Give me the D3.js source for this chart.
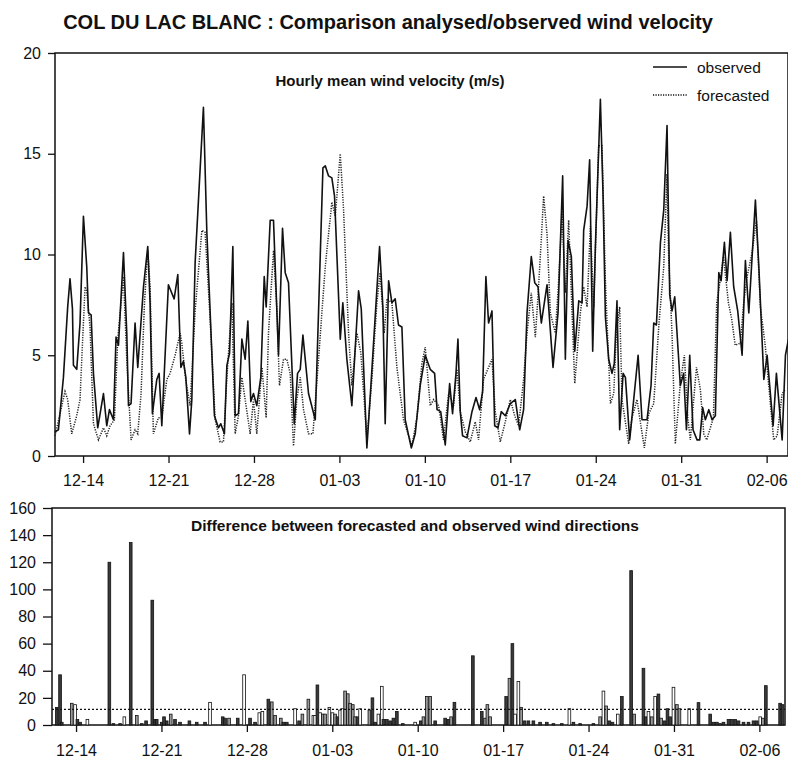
<!DOCTYPE html>
<html>
<head>
<meta charset="utf-8">
<title>Col du Lac Blanc</title>
<script src="https://cdnjs.cloudflare.com/ajax/libs/d3/7.8.5/d3.min.js"></script>
<style>
  body { margin: 0; background: #fff; }
  svg text { font-family: "Liberation Sans", Arial, Helvetica, sans-serif; fill: #111; }
  .tick line { stroke: #111; stroke-width: 1.3; }
</style>
</head>
<body>
<svg id="chart" width="788" height="758"></svg>
<script>

// day 0 = 12-14, one unit = one day
var tickDays = [0, 7, 14, 21, 28, 35, 42, 49, 56]
var tickLabels = ['12-14', '12-21', '12-28', '01-03', '01-10', '01-17', '01-24', '01-31', '02-06']

// hourly mean wind velocity (m/s), [day, value]
var observed = [[-2.30,1.2],[-2.02,1.3],[-1.61,3.9],[-1.26,7.4],[-1.07,8.8],[-0.87,7.3],[-0.79,4.5],[-0.52,4.3],[-0.25,6.6],[0.03,11.9],[0.30,9.4],[0.44,7.1],[0.66,7.0],[0.85,4.1],[1.20,1.4],[1.67,3.1],[1.94,1.5],[2.16,2.3],[2.49,1.8],[2.70,5.9],[2.90,5.5],[3.31,10.1],[3.58,6.1],[3.72,2.5],[3.93,2.6],[4.26,6.6],[4.48,4.4],[4.95,8.4],[5.30,10.4],[5.49,7.6],[5.68,2.1],[6.04,3.8],[6.23,4.1],[6.45,1.5],[6.99,8.5],[7.46,7.8],[7.76,9.0],[8.01,4.4],[8.22,4.7],[8.42,3.9],[8.72,1.1],[8.91,2.8],[9.18,9.6],[9.86,17.3],[10.14,11.1],[10.76,2.0],[11.09,1.4],[11.28,1.6],[11.58,1.1],[11.78,4.5],[12.00,5.1],[12.27,10.4],[12.46,2.0],[12.73,2.1],[13.01,5.8],
  [13.28,4.8],[13.50,6.7],[13.74,2.7],[13.96,3.1],[14.23,2.5],[14.56,3.9],[14.84,8.9],[15.00,7.4],[15.33,11.7],[15.60,11.7],[16.01,5.0],[16.34,11.3],[16.56,9.1],[16.83,8.6],[17.30,1.6],[17.57,4.1],[17.79,4.3],[18.01,6.0],[18.47,3.1],[19.02,1.8],[19.65,14.3],[19.84,14.4],[20.11,13.9],[20.38,13.8],[20.60,12.9],[21.07,5.8],[21.28,7.6],[21.61,4.8],[22.02,2.5],[22.57,8.2],[22.79,7.3],[23.25,0.4],[23.58,3.5],[24.29,10.4],[24.56,7.4],[24.75,1.6],[25.03,8.7],[25.30,7.6],[25.57,7.8],[25.84,6.5],[26.12,6.4],[26.39,1.8],[26.89,0.4],[27.21,1.1],[27.62,3.5],[28.03,5.0],
  [28.44,4.3],[28.80,4.1],[29.00,2.3],[29.30,2.2],[29.67,0.55],[30.03,3.6],[30.27,2.1],[30.55,4.1],[30.71,5.8],[30.90,2.2],[31.09,1.0],[31.45,0.9],[31.86,2.2],[32.19,2.9],[32.49,2.3],[32.73,3.2],[33.00,8.9],[33.22,6.6],[33.50,7.2],[33.72,1.5],[33.99,1.4],[34.26,2.2],[34.59,2.0],[35.00,2.6],[35.41,2.8],[35.77,1.3],[36.09,2.3],[36.37,7.1],[36.72,9.9],[37.00,8.6],[37.27,8.4],[37.54,6.6],[38.01,8.5],[38.50,4.4],[38.91,7.1],[39.29,13.9],[39.51,4.8],[39.73,10.7],[40.00,9.9],[40.28,5.2],[40.61,7.7],[40.88,7.6],[41.01,11.2],[41.29,12.4],[41.50,14.7],[41.75,5.2],[41.97,10.4],[42.38,17.7],[42.60,12.9],
  [42.79,6.9],[43.06,4.8],[43.33,4.1],[43.52,4.6],[43.74,7.7],[43.96,1.3],[44.24,4.1],[44.43,3.9],[44.78,0.8],[45.11,2.8],[45.47,5.0],[45.79,1.8],[46.20,1.8],[46.53,3.5],[46.75,6.6],[46.97,6.5],[47.30,10.6],[47.57,12.2],[47.84,16.4],[48.06,8.0],[48.25,7.2],[48.47,7.9],[48.93,3.5],[49.20,4.1],[49.43,1.3],[49.70,5.0],[49.97,1.3],[50.30,0.8],[50.52,0.8],[50.76,2.4],[50.98,1.8],[51.26,2.3],[51.53,1.8],[51.80,2.0],[52.08,9.1],[52.27,8.7],[52.54,10.6],[52.76,8.7],[53.03,11.1],[53.30,8.4],[53.63,7.2],[53.99,5.0],[54.26,9.7],[54.54,7.1],[55.08,12.7],[55.36,9.4],[55.77,3.8],[56.04,5.0],[56.53,1.5],[56.80,4.1],[57.27,0.8],[57.54,5.0],[57.79,5.8]]

var forecasted = [[-2.30,1.0],[-1.48,3.2],[-1.26,2.8],[-0.93,1.1],[-0.52,2.0],[-0.25,2.8],[0.16,8.4],[0.30,8.2],[0.57,6.4],[0.85,1.6],[1.26,0.8],[1.67,1.4],[1.94,1.0],[2.21,1.5],[2.57,1.8],[2.84,5.8],[3.31,8.9],[3.58,4.8],[3.93,0.8],[4.26,1.3],[4.48,1.1],[4.75,3.1],[5.03,7.6],[5.30,10.2],[5.49,8.4],[5.76,1.1],[6.17,1.9],[6.45,1.9],[6.86,3.8],[7.13,4.1],[7.54,5.0],[7.95,6.1],[8.09,5.6],[8.42,3.7],[8.77,2.5],[9.18,7.2],[9.73,11.2],[10.00,11.1],[10.41,6.8],[10.82,1.8],[11.23,0.7],[11.50,0.7],[11.78,3.9],[12.19,7.6],[12.46,1.1],[12.73,2.0],[13.01,3.9],
  [13.69,1.1],[13.96,2.8],[14.23,1.1],[14.65,4.4],[15.00,1.9],[15.19,6.1],[15.60,10.2],[15.87,7.4],[16.09,3.5],[16.42,4.8],[16.69,4.8],[16.97,4.1],[17.24,0.5],[17.51,2.8],[17.79,3.9],[18.06,2.3],[18.47,1.1],[18.83,1.1],[19.29,4.8],[19.84,9.4],[20.38,12.6],[20.66,11.9],[21.07,15.0],[21.34,12.2],[21.75,6.1],[22.02,3.5],[22.43,6.1],[22.76,5.1],[23.25,0.8],[23.66,3.8],[24.07,7.6],[24.34,9.1],[24.67,6.1],[24.89,7.8],[25.30,7.6],[25.71,4.4],[26.25,1.8],[26.94,0.5],[27.35,1.9],[27.76,4.6],[28.03,5.4],
  [28.44,2.5],[28.72,2.8],[29.13,2.5],[29.53,0.8],[29.94,3.1],[30.35,2.5],[30.63,4.3],[30.90,2.2],[31.31,1.2],[31.72,0.7],[32.13,1.7],[32.40,0.8],[32.81,3.8],[33.22,4.4],[33.50,4.8],[33.77,2.2],[34.18,0.7],[34.59,1.7],[35.00,2.8],[35.36,2.0],[35.68,1.5],[36.09,3.8],[36.37,6.1],[36.72,8.1],[37.05,5.9],[37.32,8.4],[37.73,12.9],[38.01,11.0],[38.28,7.1],[38.69,6.1],[38.96,8.7],[39.24,12.1],[39.51,8.1],[39.78,11.7],[40.06,7.1],[40.28,3.6],[40.74,7.1],[41.01,8.4],[41.29,7.4],[41.56,11.4],[41.83,7.4],[42.24,15.4],[42.51,15.4],[42.79,8.7],[43.20,2.6],
  [43.47,3.1],[43.69,6.1],[43.96,7.4],[44.15,2.8],[44.70,0.6],[44.97,1.9],[45.38,2.8],[45.60,1.9],[45.98,0.4],[46.34,2.1],[46.75,2.6],[47.16,6.4],[47.57,9.4],[47.84,14.0],[47.98,9.7],[48.25,6.1],[48.52,0.6],[48.93,3.6],[49.26,5.0],[49.54,1.9],[49.75,0.8],[50.25,4.4],[50.57,3.3],[50.85,1.1],[51.09,0.8],[51.64,1.9],[51.91,7.6],[52.19,8.7],[52.46,9.9],[52.87,7.6],[53.14,6.8],[53.42,5.5],[53.85,5.6],[54.12,7.6],[54.40,8.9],[54.81,10.1],[55.16,11.7],[55.49,7.4],[55.90,5.4],[56.17,3.5],[56.58,0.8],[56.86,1.0],[57.27,3.1],[57.54,3.3]]

// difference between forecasted and observed wind directions (degrees)
var barDays = [-1.58,-1.31,-1.17,-0.35,-0.08,0.11,0.33,0.93,2.73,3.06,3.61,3.96,4.48,4.98,5.39,5.74,6.25,6.48,6.61,7.02,7.21,7.43,7.76,8.11,8.52,9.29,9.89,10.57,10.98,12.02,12.21,12.54,13.25,13.77,14.26,14.67,15.02,15.27,15.76,16.04,16.31,16.78,16.99,17.27,17.95,18.28,18.55,19.04,19.45,19.59,19.78,20.00,20.22,20.41,20.76,21.01,21.23,21.42,21.64,21.83,22.05,22.27,22.46,22.68,22.87,23.06,23.28,24.04,24.29,24.51,24.78,25.06,25.19,25.47,25.74,26.01,26.29,26.78,27.79,28.25,28.47,28.75,29.02,29.43,30.25,30.52,30.74,31.01,32.52,33.25,33.52,33.71,33.93,35.25,35.52,35.76,35.98,36.25,36.48,36.75,37.07,37.48,38.03,38.58,39.12,39.81,40.43,40.76,41.31,42.40,42.95,43.22,43.44,43.71,43.96,44.40,44.73,45.49,45.74,46.50,46.70,46.91,47.19,47.46,47.73,47.95,48.22,48.47,48.69,48.96,49.24,49.45,50.25,51.01,51.97,52.24,52.52,52.79,53.06,53.47,53.75,54.02,54.29,54.70,55.11,55.52,55.79,56.07,56.29,56.53,57.70,57.89]
var barValues = [13,37,2,16,15,4,2,4,120,1,1,6,134.5,7,1,3,92,4,4,2,6,3,8,4,2,3,2,2,16.7,6,5,5,5,37,5,2,9,10,19,17,7,5,2,2,12,3,8,19,7,7,29.5,9,8,8,13,9,8,6,11,12,25,23,16,15,6,6,12,11,20,2,8,28.5,4,4,3,5,10,1,2,3,6,21,21,3,5,4,6,16.7,51,10,5,15,6,21,34.4,60,8,32,13,3,3,3,2,2,1,1,12,2,1,1,6,25,14,3,2,8,21,113.8,8,41.8,6,10,6,21,22.8,5,3,12,6,27.8,15,12,12,16.5,8,2,2,1,2,4,4,4,3,2,2,3,3,6,5,29,16,15]
// 0 = dark, 1 = grey, 2 = open bar
var barStyles = [0,0,0,1,2,0,0,2,0,0,0,2,0,1,0,0,0,0,0,0,0,0,1,0,0,0,0,0,2,0,0,1,0,2,0,0,2,2,0,1,1,1,0,0,2,0,1,1,2,2,0,2,1,1,2,2,1,0,2,2,1,1,1,1,1,0,2,1,0,0,2,2,0,0,0,0,0,0,2,0,1,1,1,0,0,0,1,0,0,0,1,1,1,0,1,0,2,2,1,0,0,0,0,0,0,0,2,0,0,0,1,2,1,0,0,2,0,0,1,0,0,2,1,2,0,1,0,0,0,2,1,1,2,0,0,0,0,0,0,0,0,0,0,0,0,0,0,2,1,0,0,0]
var threshold = 11.5

var velTicks = [0, 5, 10, 15, 20]
var dirTicks = [0, 20, 40, 60, 80, 100, 120, 140, 160]

var svg = d3.select('#chart')
var styleFill = ['#3a3a3a', '#9a9a9a', '#ffffff']

svg.append('text')
  .attr('x', 388).attr('y', 29)
  .attr('text-anchor', 'middle')
  .attr('font-size', 20).attr('font-weight', 'bold')
  .text('COL DU LAC BLANC : Comparison analysed/observed wind velocity')

// ---------- top panel ----------
var box1 = {left: 55, right: 788, top: 53, bottom: 456}
var x1 = d3.scaleLinear().domain([-2.3, 57.75]).range([box1.left, box1.right])
var y1 = d3.scaleLinear().domain([0, 20]).range([box1.bottom, box1.top])

var g1 = svg.append('g')

g1.append('rect')
  .attr('x', box1.left).attr('y', box1.top)
  .attr('width', box1.right - box1.left).attr('height', box1.bottom - box1.top)
  .attr('fill', 'none').attr('stroke', '#111').attr('stroke-width', 1.5)

g1.append('g')
  .attr('transform', 'translate(' + box1.left + ',0)')
  .call(d3.axisLeft(y1).tickValues(velTicks).tickSize(7).tickPadding(7))
  .call(function(g){ g.select('.domain').remove() })
  .selectAll('text').attr('font-size', 16)

g1.append('g')
  .attr('transform', 'translate(0,' + box1.bottom + ')')
  .call(d3.axisBottom(x1).tickValues(tickDays).tickSize(7).tickPadding(12)
        .tickFormat(function(d, i){ return tickLabels[i] }))
  .call(function(g){ g.select('.domain').remove() })
  .selectAll('text').attr('font-size', 16)

var line1 = d3.line()
  .x(function(d){ return x1(d[0]) })
  .y(function(d){ return y1(d[1]) })

g1.append('path')
  .datum(forecasted)
  .attr('d', line1)
  .attr('fill', 'none').attr('stroke', '#222')
  .attr('stroke-width', 1.5).attr('stroke-dasharray', '1.2,1.3')

g1.append('path')
  .datum(observed)
  .attr('d', line1)
  .attr('fill', 'none').attr('stroke', '#111')
  .attr('stroke-width', 1.6).attr('stroke-linejoin', 'round')

g1.append('text')
  .attr('x', 390).attr('y', 86)
  .attr('text-anchor', 'middle')
  .attr('font-size', 15).attr('font-weight', 'bold')
  .text('Hourly mean wind velocity (m/s)')

// legend
var legend = [['observed', null, 73], ['forecasted', '1.2,1.3', 101]]
legend.forEach(function(l){
  g1.append('line')
    .attr('x1', 653).attr('x2', 687).attr('y1', l[2] - 6).attr('y2', l[2] - 6)
    .attr('stroke', '#111').attr('stroke-width', 1.6)
    .attr('stroke-dasharray', l[1])
  g1.append('text')
    .attr('x', 697).attr('y', l[2])
    .attr('font-size', 15.5)
    .text(l[0])
})

// ---------- bottom panel ----------
var box2 = {left: 52, right: 785, top: 508, bottom: 725}
var x2 = d3.scaleLinear().domain([-1.97, 58.1]).range([box2.left, box2.right])
var y2 = d3.scaleLinear().domain([0, 160]).range([box2.bottom, box2.top])

var g2 = svg.append('g')

g2.append('rect')
  .attr('x', box2.left).attr('y', box2.top)
  .attr('width', box2.right - box2.left).attr('height', box2.bottom - box2.top)
  .attr('fill', 'none').attr('stroke', '#111').attr('stroke-width', 1.5)

g2.append('g')
  .attr('transform', 'translate(' + box2.left + ',0)')
  .call(d3.axisLeft(y2).tickValues(dirTicks).tickSize(9).tickPadding(7))
  .call(function(g){ g.select('.domain').remove() })
  .selectAll('text').attr('font-size', 16)

g2.append('g')
  .attr('transform', 'translate(0,' + box2.bottom + ')')
  .call(d3.axisBottom(x2).tickValues(tickDays).tickSize(7).tickPadding(13)
        .tickFormat(function(d, i){ return tickLabels[i] }))
  .call(function(g){ g.select('.domain').remove() })
  .selectAll('text').attr('font-size', 16)

var barW = x2(0.22) - x2(0)

g2.append('g')
  .selectAll('rect')
  .data(barDays)
  .enter()
  .append('rect')
  .attr('x', function(d){ return x2(d) - barW / 2 })
  .attr('y', function(d, i){ return y2(barValues[i]) })
  .attr('width', barW)
  .attr('height', function(d, i){ return y2(0) - y2(barValues[i]) })
  .attr('fill', function(d, i){ return styleFill[barStyles[i]] })
  .attr('stroke', '#111').attr('stroke-width', 0.8)

g2.append('line')
  .attr('x1', box2.left).attr('x2', box2.right)
  .attr('y1', y2(threshold)).attr('y2', y2(threshold))
  .attr('stroke', '#111').attr('stroke-width', 1.1)
  .attr('stroke-dasharray', '2,2')

g2.append('text')
  .attr('x', 415).attr('y', 531)
  .attr('text-anchor', 'middle')
  .attr('font-size', 15.5).attr('font-weight', 'bold')
  .text('Difference between forecasted and observed wind directions')

</script>
</body>
</html>
